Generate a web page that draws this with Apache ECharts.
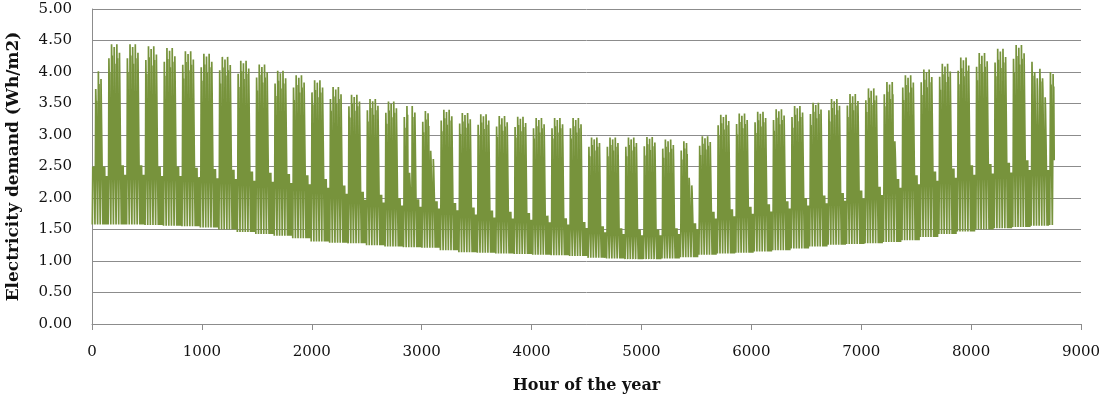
<!DOCTYPE html>
<html>
<head>
<meta charset="utf-8">
<script src="https://cdn.jsdelivr.net/npm/echarts@6/dist/echarts.min.js"></script>
<style>
html,body{margin:0;padding:0;background:#fff;}
#chart{width:1105px;height:398px;}
</style>
</head>
<body>
<div id="chart"></div>
<script>
// Weekly values; index 0 = partial week starting Tue, Jan 1 (hour 0)
// then each week runs Monday..Sunday.
const weekPeak = [4.01, 4.44, 4.44, 4.41, 4.38, 4.33, 4.29, 4.24, 4.18, 4.12, 4.02, 3.95, 3.87, 3.76, 3.64, 3.57, 3.53, 3.46, 3.38, 3.40, 3.35, 3.33, 3.30, 3.29, 3.27, 3.27, 3.27, 2.96, 2.96, 2.96, 2.97, 2.93, 2.90, 2.98, 3.32, 3.34, 3.37, 3.41, 3.46, 3.51, 3.57, 3.65, 3.74, 3.84, 3.95, 4.04, 4.13, 4.23, 4.30, 4.37, 4.43, 4.38, 4.00];
const weekDip = [3.50, 3.85, 3.85, 3.82, 3.80, 3.76, 3.72, 3.68, 3.62, 3.57, 3.48, 3.42, 3.35, 3.25, 3.15, 3.08, 3.05, 3.00, 2.92, 2.94, 2.90, 2.88, 2.85, 2.84, 2.82, 2.82, 2.82, 2.55, 2.55, 2.55, 2.56, 2.52, 2.50, 2.57, 2.87, 2.89, 2.92, 2.95, 3.00, 3.04, 3.09, 3.16, 3.24, 3.33, 3.42, 3.50, 3.58, 3.67, 3.73, 3.79, 3.84, 3.80, 3.47];
const weekLow = [1.58, 1.58, 1.58, 1.57, 1.56, 1.55, 1.53, 1.50, 1.46, 1.43, 1.40, 1.36, 1.31, 1.29, 1.28, 1.25, 1.23, 1.22, 1.21, 1.17, 1.14, 1.13, 1.12, 1.11, 1.10, 1.09, 1.08, 1.05, 1.04, 1.03, 1.03, 1.04, 1.06, 1.10, 1.12, 1.13, 1.15, 1.17, 1.20, 1.23, 1.26, 1.27, 1.28, 1.30, 1.33, 1.38, 1.43, 1.47, 1.50, 1.52, 1.54, 1.56, 1.57];
const weekendTop = [2.50, 2.52, 2.52, 2.50, 2.50, 2.48, 2.46, 2.45, 2.42, 2.40, 2.38, 2.36, 2.30, 2.20, 2.10, 2.05, 2.00, 1.98, 1.95, 1.92, 1.85, 1.80, 1.78, 1.76, 1.72, 1.68, 1.62, 1.55, 1.52, 1.50, 1.50, 1.52, 1.60, 1.78, 1.82, 1.86, 1.90, 1.95, 2.00, 2.04, 2.08, 2.12, 2.18, 2.30, 2.36, 2.42, 2.47, 2.52, 2.54, 2.56, 2.60, 2.60, 2.60];
// Relative height of the morning / afternoon spikes Mon..Fri, and Sat/Sun tops, read from the clusters
const amScale = [0.95, 1.00, 0.99, 1.00, 0.97];
const pmScale = [0.90, 0.96, 0.93, 0.95, 0.86];
const weekendScale = [1.00, 0.94];
// Individual days whose peak differs from their week (holidays etc.)
const overrideDays  = [0,   1,    120, 128,  129,  226,  227, 304, 357, 358, 359,  360, 361, 363, 364];
const overridePeaks = [2.5, 3.73, 2.4, 2.75, 2.62, 2.32, 2.2, 2.9, 4.0, 3.9, 4.05, 3.9, 3.6, 4.0, 3.97];
const xTicks = [0, 1000, 2000, 3000, 4000, 5000, 6000, 7000, 8000, 9000];

const data = [];
for (let d = 0; d < 365; d++) {
  const i = Math.floor((d + 1) / 7);
  const dow = (d + 1) % 7; // 0 = Monday ... 6 = Sunday
  const h = d * 24;
  const oi = overrideDays.indexOf(d);
  const low = weekLow[i];
  const wt = weekendTop[i];
  if (oi >= 0 || dow < 5) {
    const wd = dow < 5 ? dow : 4;
    const am = oi >= 0 ? overridePeaks[oi] : weekPeak[i] * amScale[wd];
    const pm = oi >= 0 ? overridePeaks[oi] * 0.95 : weekPeak[i] * pmScale[wd];
    const dip = Math.min(weekDip[i], pm);
    data.push([h + 3, low], [h + 7, wt], [h + 10, am], [h + 13, dip], [h + 16, pm], [h + 20, wt]);
  } else {
    const top = wt * weekendScale[dow - 5];
    data.push([h + 3, low], [h + 10, top], [h + 14, low], [h + 19, top]);
  }
}

const chart = echarts.init(document.getElementById('chart'), null, {renderer: 'canvas'});
const labelFont = {fontFamily: 'DejaVu Serif', fontSize: 15, color: '#111'};
chart.setOption({
  animation: false,
  grid: {left: 92, right: 24, top: 9, bottom: 74, containLabel: false, outerBoundsMode: 'none'},
  xAxis: {
    type: 'value', min: 0, max: 9000, interval: 1000,
    name: 'Hour of the year', nameLocation: 'middle', nameGap: 54,
    nameTextStyle: {fontFamily: 'DejaVu Serif', fontSize: 16, fontWeight: 'bold', color: '#111'},
    axisLine: {show: true, lineStyle: {color: '#8c8c8c', width: 1}},
    axisTick: {show: true, inside: false, length: 6, lineStyle: {color: '#8c8c8c'}},
    axisLabel: Object.assign({margin: 21, formatter: v => xTicks.includes(v) ? String(v) : ''}, labelFont),
    splitLine: {show: false}
  },
  yAxis: {
    type: 'value', min: 0, max: 5, interval: 0.5,
    name: 'Electricity demand (Wh/m2)', nameLocation: 'middle', nameGap: 70, nameRotate: 90,
    nameTextStyle: {fontFamily: 'DejaVu Serif', fontSize: 17, fontWeight: 'bold', color: '#111'},
    axisLine: {show: true, lineStyle: {color: '#8c8c8c', width: 1}},
    axisTick: {show: false},
    axisLabel: Object.assign({margin: 20, formatter: v => v.toFixed(2)}, labelFont),
    splitLine: {show: true, lineStyle: {color: '#8c8c8c', width: 1}}
  },
  series: [{
    type: 'line',
    data: data,
    showSymbol: false,
    sampling: null,
    lineStyle: {color: '#77933C', width: 1.7},
    itemStyle: {color: '#77933C'},
    silent: true
  }]
});
</script>
</body>
</html>
